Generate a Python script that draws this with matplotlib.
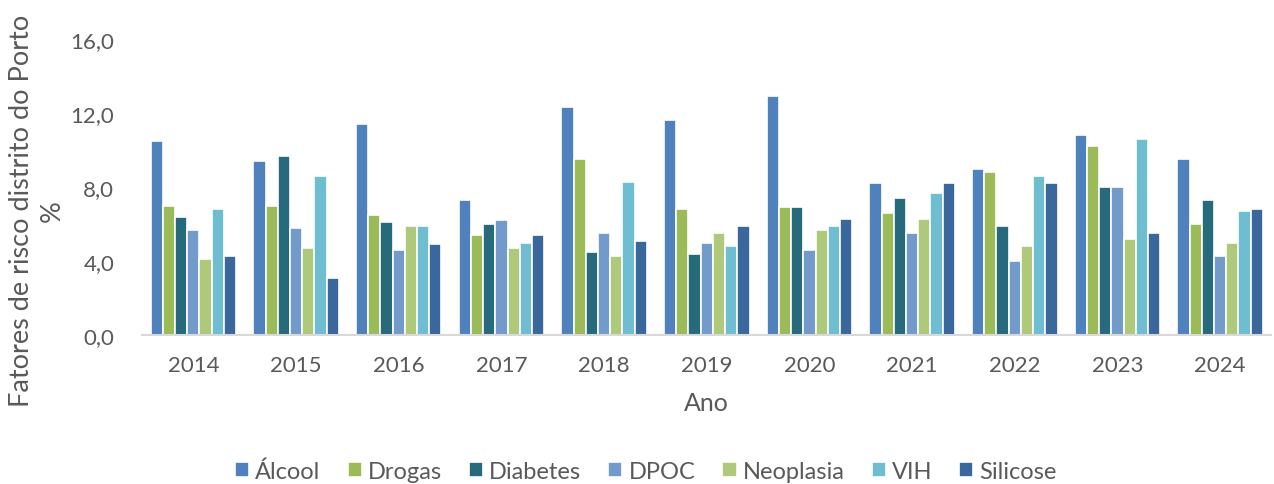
import matplotlib
matplotlib.use("Agg")
import matplotlib.pyplot as plt
import numpy as np
from matplotlib.ticker import FuncFormatter

years = ["2014", "2015", "2016", "2017", "2018", "2019", "2020", "2021", "2022", "2023", "2024"]
alcool    = [10.5, 9.4, 11.4, 7.3, 12.3, 11.6, 12.9, 8.2, 9.0, 10.8, 9.5]
drogas    = [7.0, 7.0, 6.5, 5.4, 9.5, 6.8, 6.9, 6.6, 8.8, 10.2, 6.0]
diabetes  = [6.4, 9.7, 6.1, 6.0, 4.5, 4.4, 6.9, 7.4, 5.9, 8.0, 7.3]
dpoc      = [5.7, 5.8, 4.6, 6.2, 5.5, 5.0, 4.6, 5.5, 4.0, 8.0, 4.3]
neoplasia = [4.1, 4.7, 5.9, 4.7, 4.3, 5.5, 5.7, 6.3, 4.8, 5.2, 5.0]
vih       = [6.8, 8.6, 5.9, 5.0, 8.3, 4.8, 5.9, 7.7, 8.6, 10.6, 6.7]
silicose  = [4.3, 3.1, 4.9, 5.4, 5.1, 5.9, 6.3, 8.2, 8.2, 5.5, 6.8]

series_names = ["Álcool", "Drogas", "Diabetes", "DPOC", "Neoplasia", "VIH", "Silicose"]
series_vals = [alcool, drogas, diabetes, dpoc, neoplasia, vih, silicose]
colors = ["#4F81BD", "#9BBB59", "#276A7C", "#729ACA", "#AFC97A", "#6FBDD1", "#3A679C"]

plt.rcParams['font.family'] = ['Lato', 'DejaVu Sans']
txt = "#595959"

fig = plt.figure(figsize=(12.74, 4.85), dpi=100)
ax = fig.add_axes([0.1115, 0.307, 0.8865, 0.6105])

x = np.arange(len(years))
pitch = 0.119
n = len(series_names)
for i, (name, vals, c) in enumerate(zip(series_names, series_vals, colors)):
    off = (i - (n - 1) / 2) * pitch
    ax.bar(x + off, vals, width=pitch, color=c, edgecolor="white", linewidth=1.2, label=name)

ax.set_xlim(-0.5, len(years) - 0.5)
ax.set_ylim(0, 16)
ax.set_yticks([0, 4, 8, 12, 16])
ax.yaxis.set_major_formatter(FuncFormatter(lambda v, p: f"{v:.1f}".replace(".", ",")))
ax.set_xticks(x)
ax.set_xticklabels(years)
ax.tick_params(axis="both", length=0, labelsize=16, labelcolor=txt)
ax.tick_params(axis="x", pad=14)
ax.tick_params(axis="y", pad=20)
for s in ["top", "right", "left"]:
    ax.spines[s].set_visible(False)
ax.spines["bottom"].set_color("#D9D9D9")
ax.spines["bottom"].set_linewidth(1.5)

ax.set_xlabel("Ano", fontsize=18, color=txt, labelpad=12)
fig.text(0.029, 0.565, "Fatores de risco distrito do Porto\n%", rotation=90,
         ha="center", va="center", fontsize=19.5, color=txt, multialignment="center",
         linespacing=1.3)

leg = fig.legend(loc="center", bbox_to_anchor=(0.507, 0.027), ncol=7, frameon=False,
                 fontsize=17, handlelength=0.6, handleheight=0.6, handletextpad=0.25,
                 columnspacing=1.15, labelcolor=txt)

fig.savefig("out.png", dpi=100)
